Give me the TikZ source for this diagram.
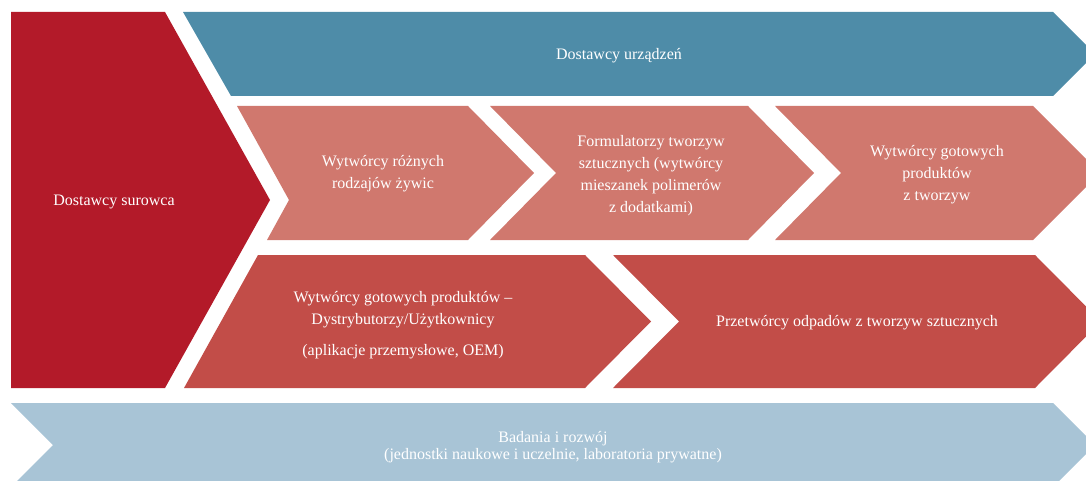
\documentclass[tikz,border=0pt]{standalone}
\usepackage{fontspec}
\setmainfont{Liberation Serif}
\definecolor{rawred}{HTML}{B31A29}
\definecolor{equipblue}{HTML}{4E8CA8}
\definecolor{salmon}{HTML}{D0786E}
\definecolor{brick}{HTML}{C24D48}
\definecolor{paleblue}{HTML}{A8C4D6}
\begin{document}
\begin{tikzpicture}[x=1pt,y=-1pt,
  lbl/.style={text=white, align=center, inner sep=0pt, font=\fontsize{16}{22}\selectfont},
  lbltight/.style={lbl, font=\fontsize{16}{17}\selectfont}]
\useasboundingbox (0,0) rectangle (1086,481);
\clip (0,0) rectangle (1086,481);

% raw material suppliers (large chevron on the left)
\fill[rawred] (11,12) -- (165,12) -- (270,200) -- (165,388) -- (11,388) -- cycle;
% equipment suppliers (top band)
\fill[equipblue] (183,12) -- (1053,12) -- (1095,54) -- (1053,96) -- (231,96) -- cycle;
% second row
\fill[salmon] (237,106) -- (468,106) -- (534,173) -- (468,240) -- (267,240) -- (289,200) -- cycle;
\fill[salmon] (490,106) -- (748,106) -- (814,173) -- (748,240) -- (490,240) -- (556,173) -- cycle;
\fill[salmon] (775,106) -- (1033,106) -- (1100,173) -- (1033,240) -- (775,240) -- (841,173) -- cycle;
% third row
\fill[brick] (258,255) -- (585,255) -- (651,321.5) -- (585,388) -- (184,388) -- cycle;
\fill[brick] (613,255) -- (1035,255) -- (1101,321.5) -- (1035,388) -- (613,388) -- (679,321.5) -- cycle;
% research and development band
\fill[paleblue] (11,403) -- (1053,403) -- (1095,445) -- (1053,487) -- (11,487) -- (53,445) -- cycle;

% labels
\node[lbl] (raw) at (114,202) {Dostawcy surowca};
\node[lbl] (equip) at (619,56) {Dostawcy urządzeń};
\node[lbl] (resin) at (383,174) {Wytwórcy różnych\\rodzajów żywic};
\node[lbl] (form) at (651,176) {Formulatorzy tworzyw\\sztucznych (wytwórcy\\mieszanek polimerów\\z dodatkami)};
\node[lbl] (conv) at (937,175) {Wytwórcy gotowych\\produktów\\z tworzyw};
\node[lbl] (oem) at (403,325) {Wytwórcy gotowych produktów –\\Dystrybutorzy/Użytkownicy\\[9pt](aplikacje przemysłowe, OEM)};
\node[lbl] (recyc) at (857,323) {Przetwórcy odpadów z tworzyw sztucznych};
\node[lbltight] (rnd) at (553,447) {Badania i rozwój\\(jednostki naukowe i uczelnie, laboratoria prywatne)};
\end{tikzpicture}
\end{document}
